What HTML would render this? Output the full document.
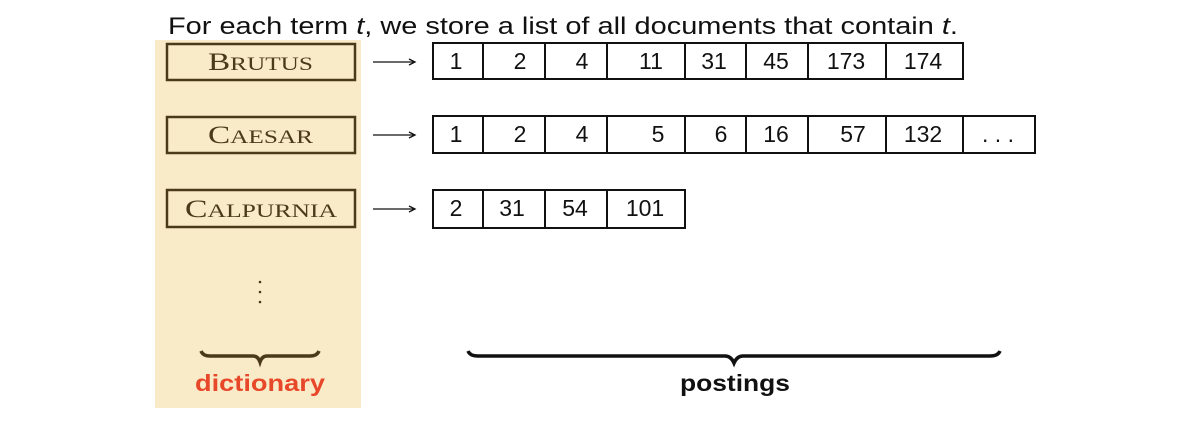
<!DOCTYPE html>
<html><head><meta charset="utf-8"><style>
html,body{margin:0;padding:0;background:#fff;}
svg{display:block;}
.n{font-family:"Liberation Sans",sans-serif;font-size:23px;fill:#111;text-anchor:middle;}
.t{font-family:"Liberation Serif",serif;font-size:25px;fill:#4a3a1a;font-variant:small-caps;}
</style></head><body>
<svg width="1204" height="428" viewBox="0 0 1204 428" xmlns="http://www.w3.org/2000/svg">
<rect x="155" y="40" width="206" height="368" fill="#faebc8"/>
<text x="168" y="34" font-family="Liberation Sans,sans-serif" font-size="24" fill="#111" textLength="790" lengthAdjust="spacingAndGlyphs">For each term <tspan font-style="italic">t</tspan>, we store a list of all documents that contain <tspan font-style="italic">t</tspan>.</text>
<g fill="none" stroke="#4a3a1a" stroke-width="2.5">
<rect x="167" y="44" width="188" height="36"/>
<rect x="167" y="117" width="188" height="36"/>
<rect x="167" y="190" width="188" height="37"/>
</g>
<text class="t" x="208" y="70" textLength="105" lengthAdjust="spacingAndGlyphs">B<tspan font-size="19">RUTUS</tspan></text>
<text class="t" x="208" y="143" textLength="105" lengthAdjust="spacingAndGlyphs">C<tspan font-size="19">AESAR</tspan></text>
<text class="t" x="185" y="217" textLength="152" lengthAdjust="spacingAndGlyphs">C<tspan font-size="19">ALPURNIA</tspan></text>
<g stroke="#111" stroke-width="1.3" fill="none">
<line x1="373" y1="62" x2="414" y2="62"/><path d="M409 59 L415 62 L409 65"/>
<line x1="373" y1="135" x2="414" y2="135"/><path d="M409 132 L415 135 L409 138"/>
<line x1="373" y1="209" x2="414" y2="209"/><path d="M409 206 L415 209 L409 212"/>
</g>
<g fill="none" stroke="#111" stroke-width="2">
<rect x="433" y="43" width="530" height="36"/>
<path d="M483 43V79M545 43V79M607 43V79M685 43V79M746 43V79M808 43V79M886 43V79"/>
<rect x="433" y="116" width="602" height="37"/>
<path d="M483 116V153M545 116V153M607 116V153M685 116V153M746 116V153M808 116V153M886 116V153M963 116V153"/>
<rect x="433" y="190" width="252" height="38"/>
<path d="M483 190V228M545 190V228M607 190V228"/>
</g>
<g class="n">
<text x="456" y="69">1</text><text x="520" y="69">2</text><text x="582" y="69">4</text><text x="651" y="69">11</text><text x="714" y="69">31</text><text x="776" y="69">45</text><text x="846" y="69">173</text><text x="923" y="69">174</text>
<text x="456" y="142">1</text><text x="520" y="142">2</text><text x="582" y="142">4</text><text x="658" y="142">5</text><text x="721" y="142">6</text><text x="776" y="142">16</text><text x="853" y="142">57</text><text x="923" y="142">132</text><text x="998" y="142">. . .</text>
<text x="456" y="216">2</text><text x="512" y="216">31</text><text x="575" y="216">54</text><text x="645" y="216">101</text>
</g>
<g fill="#4a3a1a"><circle cx="260" cy="282" r="1.3"/><circle cx="260" cy="292" r="1.3"/><circle cx="260" cy="302" r="1.3"/></g>
<path d="M201 351 Q203 356 210 356 L253 356 Q258 356 260 362 Q262 356 267 356 L310 356 Q317 356 319 351" fill="none" stroke="#4a3a1a" stroke-width="3.5"/>
<text x="195" y="391" font-family="Liberation Sans,sans-serif" font-size="23" font-weight="bold" fill="#e8482a" textLength="130" lengthAdjust="spacingAndGlyphs">dictionary</text>
<path d="M468 351 Q470 356 478 356 L725 356 Q731 356 734 363 Q737 356 743 356 L990 356 Q998 356 1000 351" fill="none" stroke="#111" stroke-width="3.5"/>
<text x="680" y="391" font-family="Liberation Sans,sans-serif" font-size="23" font-weight="bold" fill="#111" textLength="110" lengthAdjust="spacingAndGlyphs">postings</text>
</svg>
</body></html>
